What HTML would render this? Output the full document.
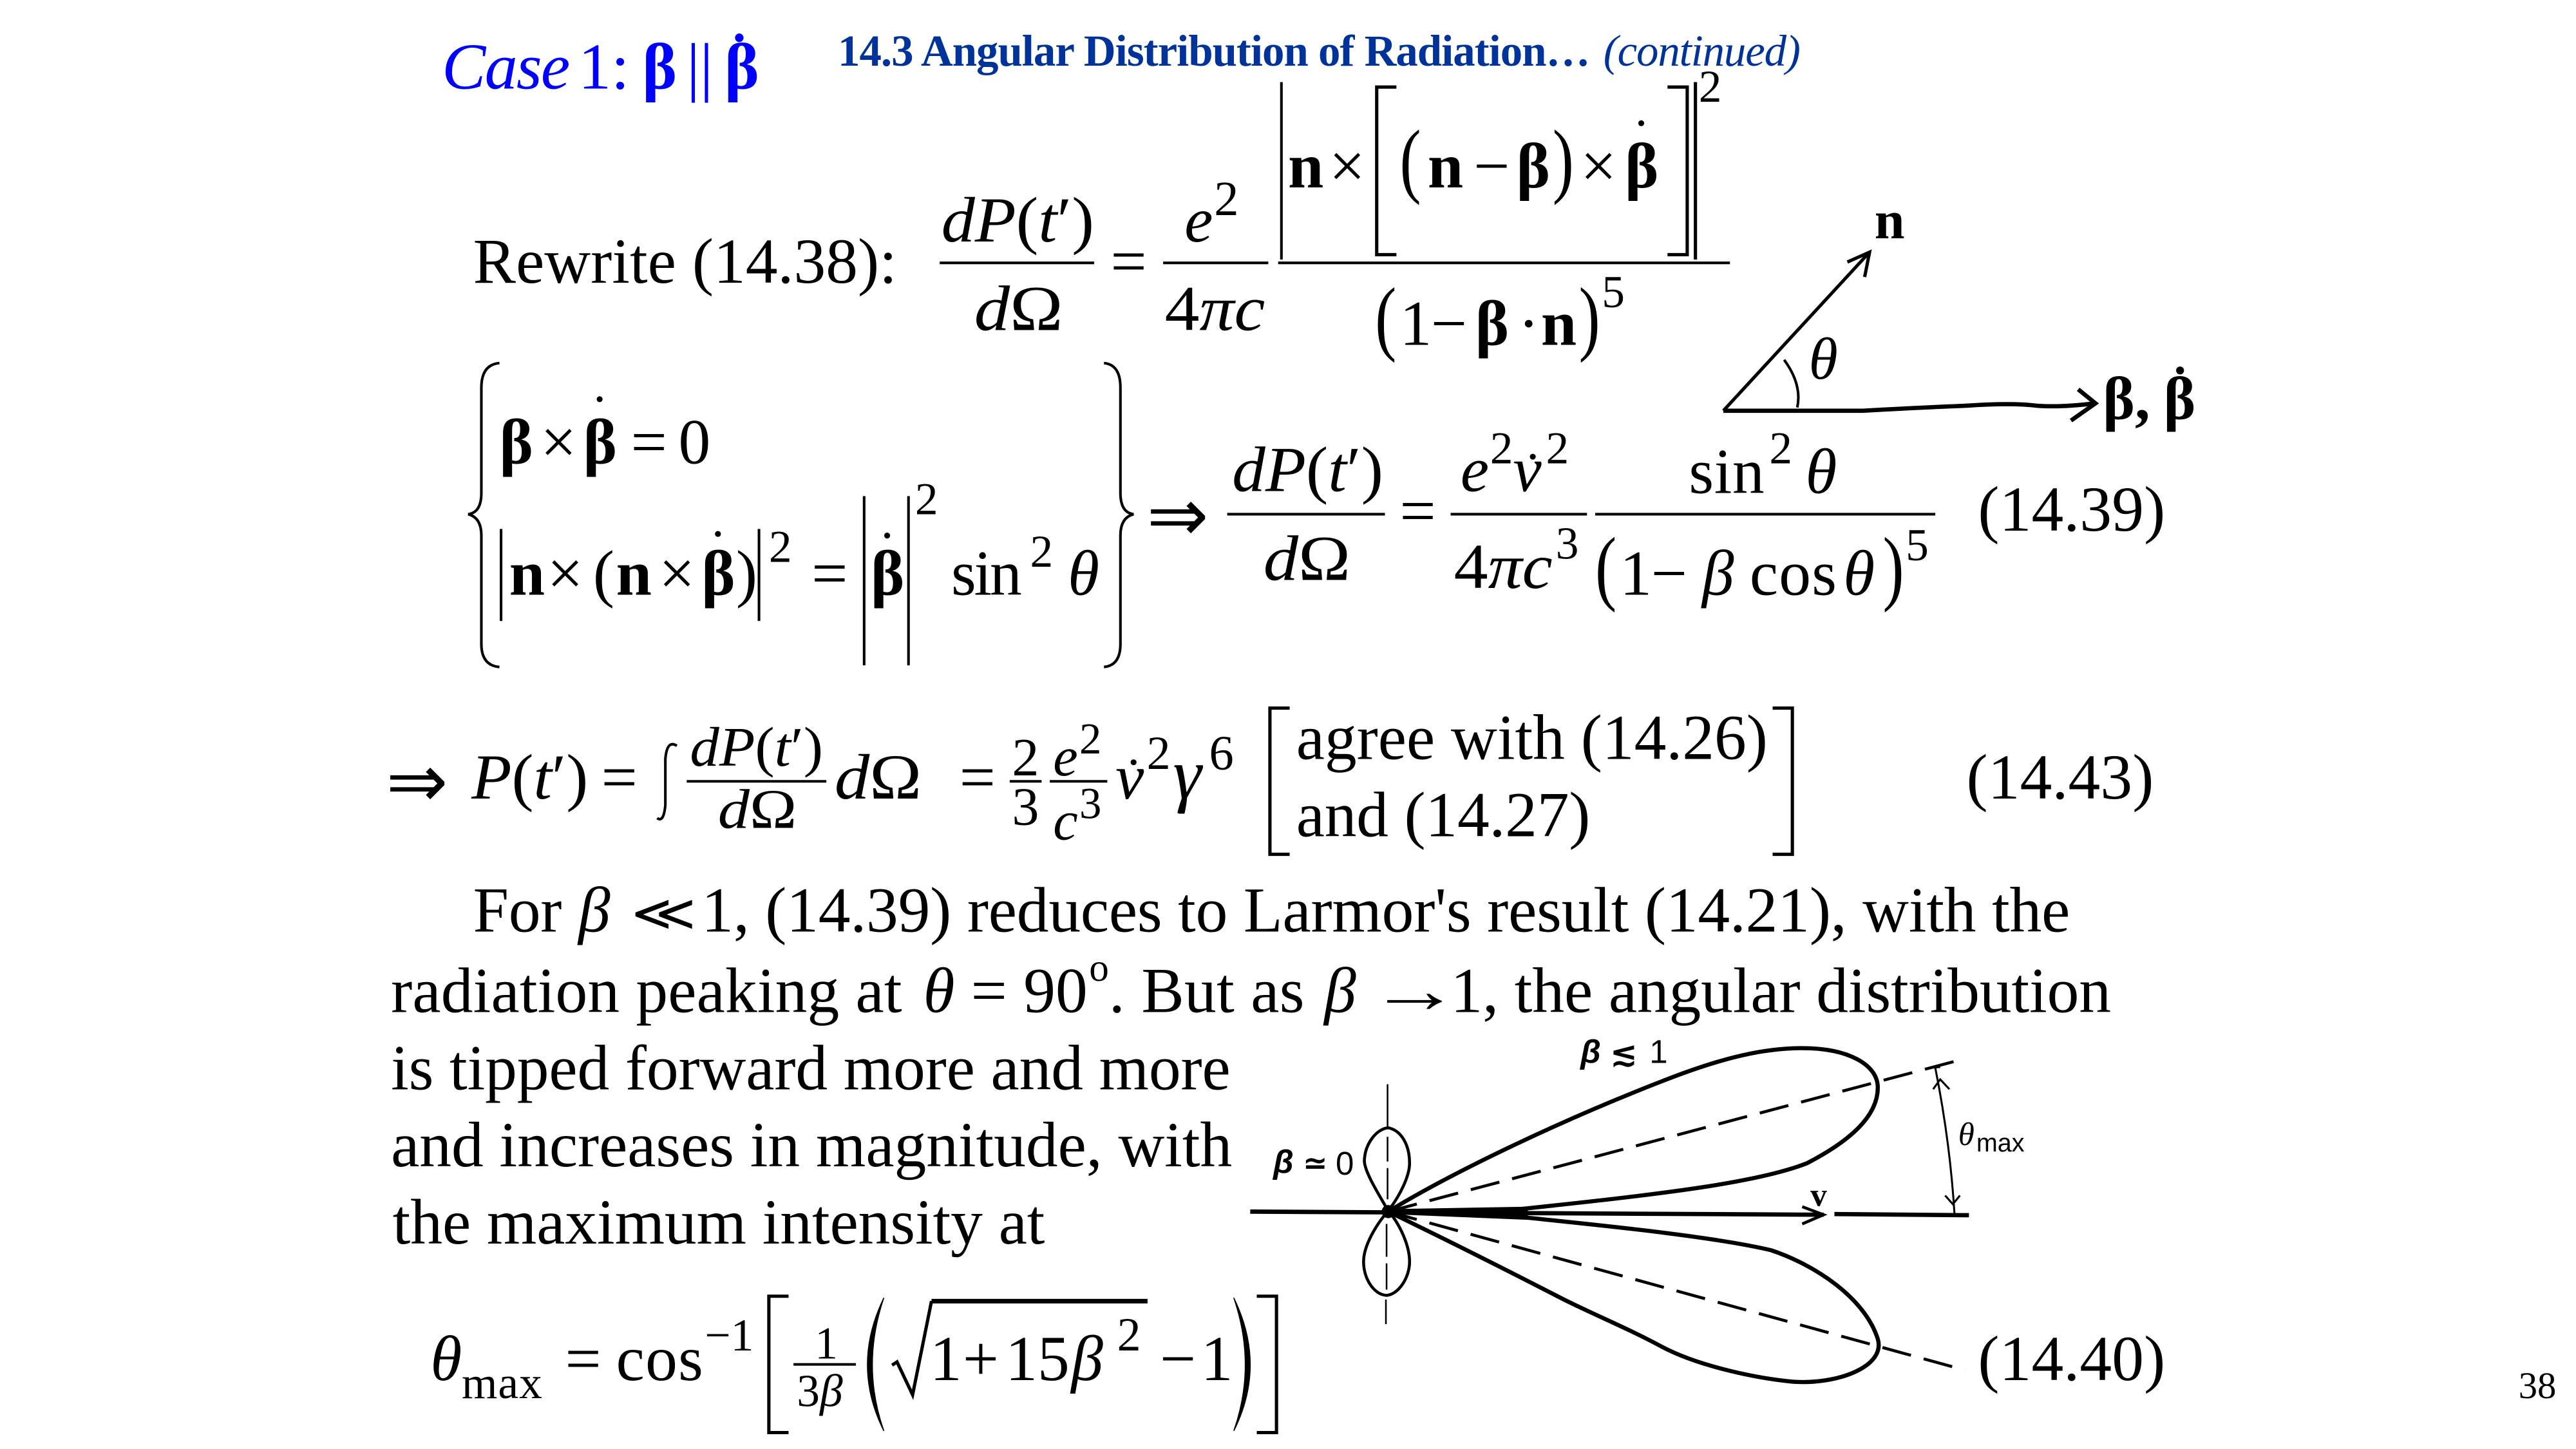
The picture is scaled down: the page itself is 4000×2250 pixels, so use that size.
<!DOCTYPE html>
<html><head><meta charset="utf-8"><style>
html,body{margin:0;padding:0;background:#fff;width:4000px;height:2250px;overflow:hidden}
svg{display:block}
text{font-family:"Liberation Serif",serif;font-size:39px;fill:#000;white-space:pre}
.i{font-style:italic}.b{font-weight:bold}.n{font-style:normal}
.s{font-size:28px}.f{fill:none;stroke:#000;stroke-width:1.6}
.h{fill:none;stroke:#000;stroke-width:2}
.d{font-family:"DejaVu Sans",sans-serif}
.a{font-family:"Liberation Sans",sans-serif}
</style></head><body>
<svg width="4000" height="2250" viewBox="0 0 1568 882" xmlns="http://www.w3.org/2000/svg">
<!-- header -->
<text x="269" y="54" class="i" style="fill:#0000ff;font-size:40px" textLength="78">Case</text>
<text x="352" y="54" style="fill:#0000ff;font-size:40px">1:</text>
<text x="391" y="54" class="b" style="fill:#0000ff;font-size:40px">β</text>
<text x="418" y="54" style="fill:#0000ff;font-size:40px">||</text>
<text x="441" y="54" class="b" style="fill:#0000ff;font-size:40px">β</text>
<circle cx="450" cy="23" r="2.6" fill="#0000ff"/>
<text x="510" y="40" class="b" style="fill:#003399;font-size:27px" textLength="458">14.3 Angular Distribution of Radiation…</text>
<text x="976" y="40" class="i" style="fill:#003399;font-size:27px" textLength="120">(continued)</text>

<!-- row 1 -->
<text x="288" y="172" textLength="258">Rewrite (14.38):</text>
<text x="573" y="147" textLength="93" lengthAdjust="spacingAndGlyphs"><tspan class="i">dP</tspan>(<tspan class="i">t</tspan>′)</text>
<path d="M572 160H666M708 160H772M778 160H1053" class="f"/>
<text x="593" y="201" textLength="54" lengthAdjust="spacingAndGlyphs"><tspan class="i">d</tspan>Ω</text>
<text x="676" y="172">=</text>
<text x="721" y="147" class="i">e</text><text x="739" y="131" class="s" style="font-size:30px">2</text>
<text x="709" y="201" textLength="61" lengthAdjust="spacingAndGlyphs">4<tspan class="i">πc</tspan></text>
<path d="M780 50V158" class="f"/>
<text x="784" y="114" class="b">n</text><text x="809" y="114">×</text>
<path d="M850 53H838V155H850M1015 53H1027V155H1015M1032 50V158" class="h"/>
<text transform="translate(852,114) scale(1,1.3)">(</text>
<text x="869" y="114" class="b">n</text><text x="897" y="114">−</text><text x="923" y="114" class="b">β</text>
<text transform="translate(945,114) scale(1,1.3)">)</text>
<text x="962" y="114">×</text><text x="989" y="114" class="b">β</text>
<circle cx="999" cy="75" r="1.8"/>
<text x="1034" y="62" class="s">2</text>
<text transform="translate(837,210) scale(1,1.3)">(</text>
<text x="852" y="210">1</text><text x="871" y="210">−</text><text x="898" y="210" class="b">β</text>
<text x="924" y="210">·</text><text x="938" y="210" class="b">n</text>
<text transform="translate(961,210) scale(1,1.3)">)</text>
<text x="975" y="187" class="s">5</text>

<!-- vector diagram -->
<path d="M1049 250L1138 153.5M1124.5 159.5L1138 153.5L1135 168.6" fill="none" stroke="#000" stroke-width="2"/>
<path d="M1086 219Q1097 234 1094 248" class="f"/>
<path d="M1049 250L1134 250Q1170 248 1196 247Q1225 245 1240 247Q1255 248 1275 245.5M1265 237L1275.5 245.5L1260.6 256" fill="none" stroke="#000" stroke-width="2.6"/>
<text x="1141" y="145" class="b" style="font-size:33px">n</text>
<text x="1101" y="230.5" class="i" style="font-size:36px">θ</text>
<text x="1280" y="255" class="b" style="font-size:37px">β,</text>
<text x="1317" y="255" class="b" style="font-size:37px">β</text>
<circle cx="1327" cy="225.5" r="2.4"/>

<!-- row 2 -->
<path d="M304 221Q293 222 293 236V300Q293 312 285 313Q293 315 293 326V392Q293 405 304 406M672 221Q682 222 682 236V300Q682 312 690 313Q682 315 682 326V392Q682 405 672 406" class="f"/>
<text x="304" y="282" class="b">β</text><text x="329" y="282">×</text><text x="355" y="282" class="b">β</text>
<circle cx="365" cy="243" r="1.8"/>
<text x="384" y="282">=</text><text x="413" y="282">0</text>
<path d="M305 322V378M462 322V378M526 302V405M553 302V405" class="f"/>
<text x="310" y="362" class="b">n</text><text x="333" y="362">×</text><text x="361" y="362">(</text>
<text x="375" y="362" class="b">n</text><text x="401" y="362">×</text><text x="427" y="362" class="b">β</text>
<circle cx="437" cy="325" r="1.8"/>
<text x="448" y="362">)</text>
<text x="468" y="342" class="s">2</text>
<text x="494" y="362">=</text>
<text x="530" y="362" class="b">β</text><circle cx="540" cy="326" r="1.8"/>
<text x="557" y="313" class="s">2</text>
<text x="579" y="362" textLength="43">sin</text><text x="627" y="345" class="s">2</text>
<text x="650" y="362" class="i">θ</text>
<text x="698" y="329" class="d" style="font-size:45px">⇒</text>
<text x="750" y="299" textLength="92" lengthAdjust="spacingAndGlyphs"><tspan class="i">dP</tspan>(<tspan class="i">t</tspan>′)</text>
<path d="M747 313H843M883 313H966M971 313H1178" class="f"/>
<text x="769" y="353" textLength="53" lengthAdjust="spacingAndGlyphs"><tspan class="i">d</tspan>Ω</text>
<text x="852" y="324">=</text>
<text x="889" y="299" class="i">e</text><text x="907" y="282" class="s">2</text>
<text x="921" y="299" class="i">v</text><circle cx="933" cy="278" r="1.8"/><text x="941" y="282" class="s">2</text>
<text x="885" y="358" textLength="60" lengthAdjust="spacingAndGlyphs">4<tspan class="i">πc</tspan></text><text x="947" y="340" class="s">3</text>
<text x="1028" y="300" textLength="46">sin</text><text x="1077" y="282" class="s">2</text>
<text x="1099" y="300" class="i">θ</text>
<text transform="translate(971,362) scale(1,1.3)">(</text>
<text x="986" y="362">1</text><text x="1005" y="362">−</text>
<text x="1036" y="362" class="i">β</text><text x="1065" y="362" textLength="53">cos</text>
<text x="1122" y="362" class="i">θ</text>
<text transform="translate(1146,362) scale(1,1.3)">)</text>
<text x="1160" y="341" class="s">5</text>
<text x="1204" y="323" textLength="114">(14.39)</text>

<!-- row 3 -->
<text x="235" y="491" class="d" style="font-size:45px">⇒</text>
<text x="287" y="486" textLength="71" lengthAdjust="spacingAndGlyphs"><tspan class="i">P</tspan>(<tspan class="i">t</tspan>′)</text>
<text x="366" y="486">=</text>
<path d="M400 498Q404 501 405 490V462Q406 450 412 454" class="f"/>
<text x="420" y="466" style="font-size:34px" textLength="81" lengthAdjust="spacingAndGlyphs"><tspan class="i">dP</tspan>(<tspan class="i">t</tspan>′)</text>
<path d="M418 475.6H503M614.6 475.6H634M639 475.6H674" class="f"/>
<text x="437" y="504" style="font-size:34px" textLength="48" lengthAdjust="spacingAndGlyphs"><tspan class="i">d</tspan>Ω</text>
<text x="508" y="486" textLength="53" lengthAdjust="spacingAndGlyphs"><tspan class="i">d</tspan>Ω</text>
<text x="584" y="486">=</text>
<text x="616" y="472" style="font-size:33px">2</text><text x="616" y="502" style="font-size:33px">3</text>
<text x="641" y="472" class="i" style="font-size:34px">e</text><text x="657" y="458.6" style="font-size:27px">2</text>
<text x="641" y="511" class="i" style="font-size:34px">c</text><text x="657" y="498" style="font-size:27px">3</text>
<text x="679" y="486" class="i">v</text><circle cx="690" cy="464" r="1.8"/><text x="698" y="468" style="font-size:29px">2</text>
<text x="714" y="486" class="i" style="font-size:44px">γ</text><text x="736" y="468.5" style="font-size:30px">6</text>
<path d="M785 431H773V520H785M1079 431H1091V520H1079" class="h"/>
<text x="789" y="462" textLength="287">agree with (14.26)</text>
<text x="789" y="509" textLength="179">and (14.27)</text>
<text x="1197" y="486" textLength="114">(14.43)</text>

<!-- paragraph -->
<text x="288" y="567" textLength="54">For</text>
<text x="352" y="567" class="i">β</text>
<text x="384" y="566" class="d" style="font-size:30px" textLength="40" lengthAdjust="spacingAndGlyphs">≪</text>
<text x="427" y="567" textLength="833">1, (14.39) reduces to Larmor's result (14.21), with the</text>
<text x="238" y="616" textLength="311">radiation peaking at</text>
<text x="562" y="616" class="i">θ</text>
<text x="591" y="616">=</text>
<text x="623" y="616">90</text>
<text x="663" y="597" style="font-size:24px">o</text>
<text x="675" y="616" textLength="119">. But as</text>
<text x="806" y="616" class="i">β</text>
<text x="833" y="616" textLength="56" lengthAdjust="spacingAndGlyphs">→</text>
<text x="883" y="616" textLength="402">1, the angular distribution</text>
<text x="238" y="663" textLength="511">is tipped forward more and more</text>
<text x="238" y="710" textLength="512">and increases in magnitude, with</text>
<text x="239" y="757" textLength="397">the maximum intensity at</text>

<!-- theta max -->
<text x="262" y="840" class="i">θ</text>
<text x="281" y="851" class="s" textLength="49">max</text>
<text x="344" y="840">=</text>
<text x="375" y="840" textLength="53">cos</text>
<text x="429" y="822" class="s">−1</text>
<path d="M480 789H468V872H480M765 789H777V872H765" class="h"/>
<text x="496" y="827" class="s">1</text>
<path d="M483 830.5H521" class="f"/>
<text x="485" y="856" class="s">3</text><text x="499" y="856" class="i s">β</text>
<path d="M538 790Q518 831 538 871Q524 831 538 790M751 790Q771 831 751 871Q765 831 751 790" stroke="#000" stroke-width=".6"/>
<path d="M543 831L546 829L555.5 849L567 792" class="h"/>
<path d="M567 792H698.5" stroke="#000" stroke-width="2.8"/>
<text x="566" y="840">1</text><text x="586" y="840">+</text><text x="612" y="840">15</text>
<text x="652" y="840" class="i">β</text><text x="680" y="822" style="font-size:29px">2</text>
<text x="706" y="840">−</text><text x="731" y="840">1</text>
<text x="1204" y="840" textLength="114">(14.40)</text>
<text x="1533" y="851" style="font-size:23px">38</text>

<!-- lobe diagram -->
<path d="M761 737.5L1110 739.4M1116.6 739L1198.5 739.7" stroke="#000" stroke-width="2.6"/>
<path d="M1097 734.5L1110 739.4L1097 745" fill="none" stroke="#000" stroke-width="1.8"/>
<path d="M845 736L930 734.5L930 742.5L845 739Z" fill="#000"/>
<path d="M845 737.5C880 716 945 684 1012 658C1050 643 1075 638 1097 638C1125 638 1143 648 1143 662C1143 680 1125 695 1100 708C1070 720 1010 727 925 736L845 737.5" fill="none" stroke="#000" stroke-width="2.5"/>
<path d="M845 737.5L928 741C965 745 1040 752 1078 761C1105 770 1135 790 1143 815C1148 832 1118 843 1091 841C1070 839 1035 832 1012 820C990 808 965 798 948 789C915 772 875 752 845 737.5" fill="none" stroke="#000" stroke-width="2.5"/>
<path d="M845 737.5L1190 646M845 737.5L1196 834" fill="none" stroke="#000" stroke-width="1.8" stroke-dasharray="18 8"/>
<path d="M844.6 660V686M844.6 692V707M844.6 711V730M844 745V765M844 769V785M843.6 791V806" fill="none" stroke="#000" stroke-width="1"/>
<path d="M845 737C838 725 830 712 830.5 706C831 696 838 687 845 686.5C853 688 858 697 858 708C858 716 852 728 845 737C852 745 858 758 858 768C858 778 851 788 844 788.5C836 788 830 778 830 768C830 758 838 745 845 737" fill="none" stroke="#000" stroke-width="1.8"/>
<circle cx="845" cy="737.5" r="4" fill="#000"/>
<path d="M1175 650L1181 649.5M1178 650Q1187 695 1189.7 739M1176.7 663L1181 657L1186.6 663M1184 727.7L1188.7 733L1193 727.7" fill="none" stroke="#000" stroke-width="1.2"/>
<text x="1192" y="697" class="i" style="font-size:20px">θ</text>
<text x="1203" y="701" class="a" style="font-size:15.5px">max</text>
<text x="775" y="714" class="a i b" style="font-size:20px">β</text>
<text x="793" y="714" class="d b" style="font-size:18px">≃</text>
<text x="813" y="715" class="a" style="font-size:20px">0</text>
<text x="962" y="647" class="a i b" style="font-size:20px">β</text>
<text x="980" y="648" class="d b" style="font-size:20px">≲</text>
<text x="1004" y="647" class="a" style="font-size:20px">1</text>
<text x="1102" y="734" class="b" style="font-size:20px">v</text>
</svg>
</body></html>
